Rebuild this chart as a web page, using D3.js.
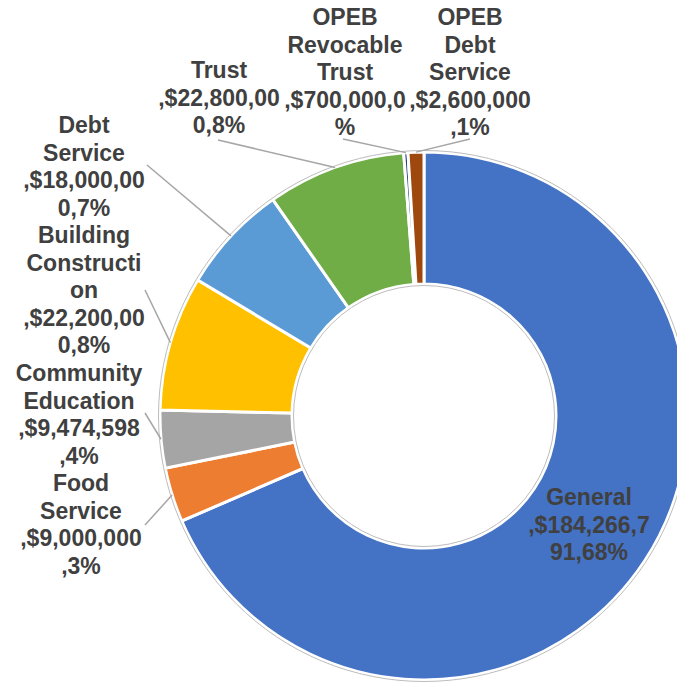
<!DOCTYPE html>
<html><head><meta charset="utf-8">
<script src="https://cdn.jsdelivr.net/npm/d3@7"></script>
<style>html,body{margin:0;padding:0;background:#fff;overflow:hidden}</style>
</head><body>
<svg id="chart" width="677" height="682"></svg>
<script>
// ---- data ----
const categories = ["General","Food Service","Community Education","Building Construction","Debt Service","Trust","OPEB Revocable Trust","OPEB Debt Service"];
const values = [184266791, 9000000, 9474598, 22200000, 18000000, 22800000, 700000, 2600000];
const colors = ["#4472C4","#ED7D31","#A5A5A5","#FFC000","#5B9BD5","#70AD47","#264478","#9E480E"];
// label text, wrapped as in the reference
const labelLines = [
  ["General", ",$184,266,7", "91,68%"],
  ["Food", "Service", ",$9,000,000", ",3%"],
  ["Community", "Education", ",$9,474,598", ",4%"],
  ["Building", "Constructi", "on", ",$22,200,00", "0,8%"],
  ["Debt", "Service", ",$18,000,00", "0,7%"],
  ["Trust", ",$22,800,00", "0,8%"],
  ["OPEB", "Revocable", "Trust", ",$700,000,0", "%"],
  ["OPEB", "Debt", "Service", ",$2,600,000", ",1%"]
];

// ---- layout (not data) ----
const cx = 424, cy = 416, R = 264, r = 132;
// label block centre x, first baseline y, leader start point (null = inside)
const labelLayout = [
  {x: 589, y: 505, lead: null},
  {x: 81,  y: 491, lead: [145, 525]},
  {x: 79,  y: 381, lead: [145, 413]},
  {x: 84,  y: 243, lead: [145, 290]},
  {x: 84,  y: 133, lead: [147, 165]},
  {x: 219, y: 78,  lead: [218, 140]},
  {x: 345, y: 25,  lead: [343, 139]},
  {x: 470, y: 25,  lead: [470, 139]}
];
const lineH = 27.6;

const svg = d3.select("#chart");
const g = svg.append("g").attr("transform", `translate(${cx},${cy})`);

const data = categories.map((c, i) => ({name: c, value: values[i], color: colors[i], i}));
const pie = d3.pie().value(d => d.value).sort(null).startAngle(0).endAngle(2 * Math.PI);
const arcs = pie(data);
const arc = d3.arc().innerRadius(r).outerRadius(R);
const edgeArc = d3.arc().innerRadius(R).outerRadius(R);

g.selectAll("path.slice").data(arcs).join("path")
  .attr("class", "slice")
  .attr("d", arc)
  .attr("fill", d => d.data.color)
  .attr("stroke", "#fff")
  .attr("stroke-width", 3)
  .attr("stroke-linejoin", "miter");

g.append("circle").attr("r", R + 1.5).attr("fill", "none").attr("stroke", "#bdbdbd").attr("stroke-width", 1);
g.append("circle").attr("r", r - 1.5).attr("fill", "none").attr("stroke", "#bdbdbd").attr("stroke-width", 1);

// leader lines
arcs.forEach((a, i) => {
  const L = labelLayout[i];
  if (!L.lead) return;
  const p = edgeArc.centroid(a);
  svg.append("line")
    .attr("x1", L.lead[0]).attr("y1", L.lead[1])
    .attr("x2", cx + p[0]).attr("y2", cy + p[1])
    .attr("stroke", "#a6a6a6").attr("stroke-width", 1.5);
});

// labels
arcs.forEach((a, i) => {
  const L = labelLayout[i];
  const t = svg.append("text")
    .attr("text-anchor", "middle")
    .attr("font-family", "'Liberation Sans', Arial, sans-serif")
    .attr("font-weight", "bold")
    .attr("font-size", 23)
    .attr("fill", "#404040");
  labelLines[i].forEach((ln, k) => {
    t.append("tspan").attr("x", L.x).attr("y", L.y + k * lineH).text(ln);
  });
});
</script>
</body></html>
